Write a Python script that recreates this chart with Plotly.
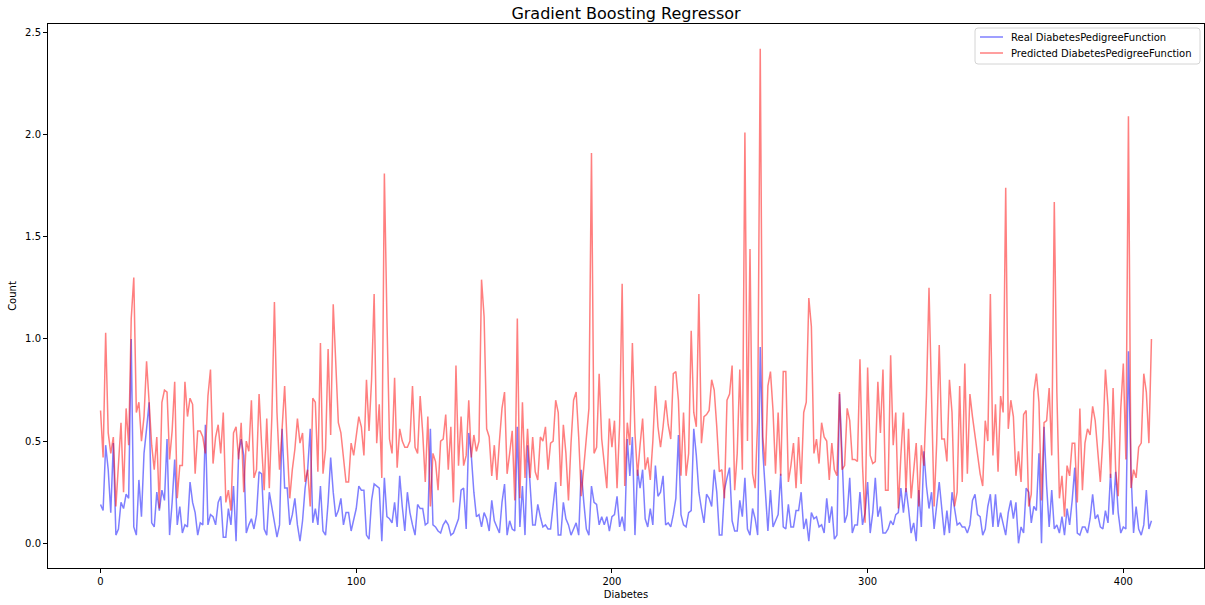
import plotly.graph_objects as go

# Real and predicted DiabetesPedigreeFunction for each test sample (index order)
real_dpf = [
    0.19, 0.16, 0.48, 0.36, 0.15, 0.49, 0.04, 0.07, 0.20, 0.17, 0.24, 0.22, 1.00, 0.08, 0.04, 0.31,
    0.13, 0.44, 0.56, 0.69, 0.10, 0.08, 0.25, 0.16, 0.26, 0.21, 0.51, 0.04, 0.20, 0.41, 0.09, 0.18,
    0.05, 0.09, 0.08, 0.30, 0.20, 0.15, 0.04, 0.10, 0.09, 0.58, 0.09, 0.14, 0.13, 0.09, 0.20, 0.23,
    0.03, 0.03, 0.17, 0.09, 0.28, 0.01, 0.44, 0.51, 0.43, 0.05, 0.09, 0.12, 0.07, 0.14, 0.35, 0.34,
    0.07, 0.04, 0.25,
    0.18, 0.09, 0.03, 0.09, 0.56, 0.27, 0.27, 0.09, 0.14, 0.22, 0.09, 0.01, 0.11, 0.27, 0.36, 0.56,
    0.10, 0.17, 0.09, 0.28, 0.06, 0.04, 0.20, 0.42, 0.25, 0.13, 0.16, 0.22, 0.09, 0.15, 0.15, 0.06,
    0.11, 0.17, 0.28,
    0.26, 0.26, 0.04, 0.02, 0.21, 0.29, 0.28, 0.27, 0.01, 0.32, 0.13, 0.12, 0.10, 0.20, 0.08, 0.33,
    0.18, 0.06, 0.25, 0.15, 0.09, 0.04, 0.19, 0.17, 0.17, 0.09, 0.10, 0.56, 0.09, 0.08, 0.06, 0.05,
    0.09, 0.11, 0.09,
    0.04, 0.05, 0.09, 0.12, 0.26, 0.27, 0.07, 0.54, 0.43, 0.25, 0.13, 0.14, 0.08, 0.15, 0.12, 0.06,
    0.21, 0.11, 0.08, 0.05, 0.20, 0.29, 0.04, 0.11, 0.07, 0.06, 0.57, 0.08, 0.28, 0.04, 0.48, 0.31,
    0.09, 0.09, 0.19, 0.13, 0.08,
    0.09, 0.07, 0.07, 0.19, 0.30, 0.04, 0.04, 0.20, 0.12, 0.09, 0.04, 0.07, 0.10, 0.04, 0.36, 0.20,
    0.07, 0.04, 0.28, 0.20, 0.19, 0.09, 0.13, 0.09, 0.13, 0.06, 0.13, 0.14, 0.23, 0.08, 0.13, 0.06,
    0.51,
    0.33, 0.52, 0.04, 0.36, 0.27, 0.36, 0.12, 0.08, 0.17, 0.09, 0.38, 0.23, 0.25, 0.33, 0.09, 0.10,
    0.08, 0.14, 0.22, 0.53, 0.14, 0.09, 0.08, 0.15, 0.16, 0.56, 0.43, 0.25, 0.17, 0.10, 0.24, 0.22,
    0.18, 0.36, 0.25,
    0.04, 0.04, 0.26, 0.32, 0.37, 0.11, 0.06, 0.06, 0.21, 0.13, 0.32, 0.07, 0.04, 0.17, 0.12, 0.04,
    0.96, 0.45, 0.25, 0.06, 0.26, 0.08, 0.11, 0.14, 0.34, 0.08, 0.07, 0.19, 0.08, 0.08, 0.16, 0.16,
    0.25, 0.07,
    0.12, 0.01, 0.15, 0.12, 0.13, 0.08, 0.09, 0.05, 0.22, 0.10, 0.18, 0.02, 0.04, 0.73, 0.43, 0.10,
    0.14, 0.32, 0.05, 0.09, 0.09, 0.25, 0.09, 0.15, 0.30, 0.05, 0.15, 0.32, 0.13, 0.18, 0.05, 0.05,
    0.07, 0.11, 0.09,
    0.14, 0.15, 0.27, 0.15, 0.27, 0.17, 0.05, 0.10, 0.01, 0.26, 0.08, 0.45, 0.28, 0.17, 0.25, 0.07,
    0.18, 0.30, 0.17, 0.04, 0.16, 0.05, 0.25, 0.18, 0.09, 0.10, 0.08, 0.08, 0.05, 0.09, 0.21, 0.24,
    0.14, 0.13, 0.04,
    0.07, 0.18, 0.24, 0.08, 0.24, 0.08, 0.15, 0.10, 0.04, 0.15, 0.21, 0.12, 0.20, 0.00, 0.08, 0.05,
    0.27, 0.25, 0.10, 0.18, 0.16, 0.44, 0.00, 0.57, 0.28, 0.08, 0.26, 0.07, 0.09, 0.05, 0.13, 0.04,
    0.17, 0.09, 0.21,
    0.37, 0.05, 0.04, 0.08, 0.08, 0.05, 0.12, 0.24, 0.12, 0.14, 0.08, 0.07, 0.16, 0.10, 0.34, 0.14,
    0.35, 0.15, 0.05, 0.08, 0.07, 0.94, 0.35, 0.05, 0.18, 0.07, 0.04, 0.09, 0.26, 0.07, 0.11,
]

predicted_dpf = [
    0.65, 0.42, 1.03, 0.54, 0.44, 0.52, 0.18, 0.40, 0.59, 0.25, 0.66, 0.48, 1.10, 1.30, 0.64, 0.69,
    0.50, 0.62, 0.89, 0.69, 0.48, 0.36, 0.52, 0.17, 0.69, 0.75, 0.74, 0.41, 0.55, 0.79, 0.22, 0.38,
    0.38, 0.79, 0.62, 0.71, 0.68, 0.34, 0.55, 0.55, 0.52, 0.44, 0.72, 0.85, 0.39, 0.52, 0.58, 0.44,
    0.64, 0.20, 0.26, 0.16, 0.54, 0.57, 0.41, 0.59, 0.25, 0.50, 0.45, 0.70, 0.32, 0.36, 0.73, 0.48,
    0.26, 0.61, 0.27,
    0.62, 1.18, 0.64, 0.36, 0.56, 0.77, 0.48, 0.22, 0.36, 0.46, 0.61, 0.49, 0.54, 0.30, 0.36, 0.18,
    0.71, 0.69, 0.35, 0.98, 0.34, 0.46, 0.95, 0.53, 1.17, 0.83, 0.59, 0.54, 0.41, 0.30, 0.30, 0.49,
    0.43, 0.52, 0.62,
    0.57, 0.43, 0.80, 0.55, 0.80, 1.22, 0.49, 0.68, 0.32, 1.81, 1.10, 0.51, 0.44, 0.81, 0.37, 0.56,
    0.50, 0.47, 0.47, 0.50, 0.77, 0.47, 0.44, 0.72, 0.54, 0.30, 0.62, 0.18, 0.44, 0.40, 0.26, 0.50,
    0.51, 0.63, 0.36,
    0.57, 0.20, 0.87, 0.38, 0.62, 0.38, 0.43, 0.70, 0.42, 0.53, 0.45, 0.50, 1.29, 1.11, 0.56, 0.52,
    0.33, 0.48, 0.31, 0.50, 0.66, 0.74, 0.34, 0.44, 0.55, 0.21, 1.10, 0.22, 0.69, 0.32, 0.56, 0.32,
    0.52, 0.35, 0.31, 0.52, 0.50,
    0.57, 0.36, 0.49, 0.50, 0.70, 0.64, 0.28, 0.58, 0.44, 0.21, 0.49, 0.70, 0.74, 0.52, 0.23, 0.38,
    0.51, 0.66, 1.91, 0.44, 0.47, 0.83, 0.51, 0.40, 0.27, 0.61, 0.47, 0.60, 0.27, 0.58, 1.27, 0.28,
    0.59,
    0.48, 0.98, 0.54, 0.33, 0.48, 0.61, 0.36, 0.42, 0.31, 0.50, 0.77, 0.57, 0.47, 0.57, 0.70, 0.58,
    0.51, 0.83, 0.84, 0.70, 0.33, 0.64, 0.33, 0.44, 1.04, 0.64, 0.57, 1.22, 0.49, 0.62, 0.63, 0.65,
    0.80, 0.75, 0.57,
    0.35, 0.36, 0.22, 0.70, 0.73, 0.87, 0.26, 0.44, 0.85, 0.36, 2.01, 0.50, 1.44, 0.34, 0.27, 0.60,
    2.42, 0.52, 0.38, 0.77, 0.84, 0.65, 0.34, 0.64, 0.33, 0.84, 0.84, 0.30, 0.38, 0.49, 0.27, 0.52,
    0.29, 0.64,
    0.69, 1.20, 1.06, 0.44, 0.51, 0.39, 0.59, 0.52, 0.50, 0.31, 0.49, 0.36, 0.33, 0.74, 0.36, 0.38,
    0.66, 0.60, 0.41, 0.41, 0.40, 0.90, 0.38, 0.10, 0.86, 0.43, 0.39, 0.40, 0.79, 0.54, 0.85, 0.26,
    0.26, 0.92, 0.48,
    0.64, 0.17, 0.43, 0.64, 0.25, 0.56, 0.22, 0.35, 0.49, 0.18, 0.48, 0.38, 0.72, 1.25, 0.67, 0.18,
    0.49, 0.97, 0.51, 0.51, 0.40, 0.80, 0.64, 0.18, 0.25, 0.77, 0.30, 0.88, 0.34, 0.73, 0.62, 0.52,
    0.42, 0.34, 0.28,
    0.60, 0.50, 1.22, 0.43, 0.68, 0.35, 0.72, 0.64, 1.74, 0.56, 0.70, 0.62, 0.33, 0.45, 0.30, 0.63,
    0.65, 0.18, 0.24, 0.74, 0.83, 0.69, 0.21, 0.59, 0.60, 0.76, 0.43, 1.67, 0.74, 0.22, 0.33, 0.13,
    0.38, 0.33, 0.49,
    0.49, 0.20, 0.66, 0.26, 0.49, 0.56, 0.53, 0.67, 0.60, 0.46, 0.30, 0.51, 0.85, 0.67, 0.32, 0.76,
    0.36, 0.23, 0.66, 0.88, 0.41, 2.09, 0.27, 0.36, 0.32, 0.47, 0.49, 0.83, 0.74, 0.49, 1.00,
]

series_names = ["Real DiabetesPedigreeFunction", "Predicted DiabetesPedigreeFunction"]
series_colors = ["rgba(0,0,255,0.5)", "rgba(255,0,0,0.5)"]

n = min(len(real_dpf), len(predicted_dpf))
sample_index = list(range(n))
real_dpf = real_dpf[:n]
predicted_dpf = predicted_dpf[:n]

x_ticks = [0, 100, 200, 300, 400]
y_ticks = [0.0, 0.5, 1.0, 1.5, 2.0, 2.5]

# 5% padding around the data, like matplotlib's default margins
x_lo, x_hi = 0, n - 1
x_pad = (x_hi - x_lo) * 0.05
all_vals = real_dpf + predicted_dpf
y_lo, y_hi = min(all_vals), max(all_vals)
y_pad = (y_hi - y_lo) * 0.05

font_family = "DejaVu Sans"
W, H = 1205, 605
M_L, M_R, M_T, M_B = 48, 1, 24, 37
plot_w = W - M_L - M_R
plot_h = H - M_T - M_B


def px_to_paper(px, py):
    """Convert page pixel coordinates to paper coordinates of the plot area."""
    return (px - M_L) / plot_w, (H - M_B - py) / plot_h


fig = go.Figure()
for vals, name, color in zip([real_dpf, predicted_dpf], series_names, series_colors):
    fig.add_trace(go.Scatter(
        x=sample_index, y=vals, mode="lines", name=name,
        line=dict(color=color, width=1.5), showlegend=False,
    ))

axis_common = dict(
    showgrid=False, zeroline=False,
    showline=True, linecolor="black", linewidth=1, mirror=True,
    ticks="outside", ticklen=4, tickwidth=1, tickcolor="black",
    tickfont=dict(family=font_family, size=10, color="black"),
)

# Legend box in the upper-right corner (matplotlib-style, rounded frame)
bx0, by0, bx1, by1 = 975, 28, 1200, 64
r = 3
(x0, y0), (x1, y1) = px_to_paper(bx0, by1), px_to_paper(bx1, by0)
rx, ry = r / plot_w, r / plot_h
box_path = (
    f"M {x0 + rx},{y0} L {x1 - rx},{y0} Q {x1},{y0} {x1},{y0 + ry} "
    f"L {x1},{y1 - ry} Q {x1},{y1} {x1 - rx},{y1} "
    f"L {x0 + rx},{y1} Q {x0},{y1} {x0},{y1 - ry} "
    f"L {x0},{y0 + ry} Q {x0},{y0} {x0 + rx},{y0} Z"
)
shapes = [dict(
    type="path", path=box_path, xref="paper", yref="paper",
    line=dict(color="#d4d4d4", width=1), fillcolor="rgba(255,255,255,0.8)",
    layer="above",
)]
annotations = []
for k, (name, color) in enumerate(zip(series_names, series_colors)):
    row_y = 37 + 16 * k
    lx0, ly = px_to_paper(980, row_y)
    lx1, _ = px_to_paper(1003, row_y)
    shapes.append(dict(
        type="line", xref="paper", yref="paper",
        x0=lx0, x1=lx1, y0=ly, y1=ly,
        line=dict(color=color, width=1.5), layer="above",
    ))
    tx, _ = px_to_paper(1009, row_y)
    annotations.append(dict(
        text=name, xref="paper", yref="paper", x=tx, y=ly,
        xanchor="left", yanchor="middle", showarrow=False,
        font=dict(family=font_family, size=10, color="black"),
    ))

fig.update_layout(
    width=W, height=H,
    margin=dict(l=M_L, r=M_R, t=M_T, b=M_B),
    paper_bgcolor="white", plot_bgcolor="white",
    font=dict(family=font_family, color="black"),
    title=dict(
        text="Gradient Boosting Regressor",
        xref="paper", x=0.5, xanchor="center", y=0.978, yanchor="middle",
        font=dict(family=font_family, size=16, color="black"),
    ),
    xaxis=dict(
        range=[x_lo - x_pad, x_hi + x_pad],
        tickvals=x_ticks, ticktext=[str(t) for t in x_ticks],
        title=dict(text="Diabetes", standoff=4,
                   font=dict(family=font_family, size=10, color="black")),
        **axis_common,
    ),
    yaxis=dict(
        range=[y_lo - y_pad, y_hi + y_pad],
        tickvals=y_ticks, ticktext=[f"{t:.1f}" for t in y_ticks],
        title=dict(text="Count", standoff=6,
                   font=dict(family=font_family, size=10, color="black")),
        **axis_common,
    ),
    shapes=shapes,
    annotations=annotations,
    showlegend=False,
)

fig.write_html("out.html")
